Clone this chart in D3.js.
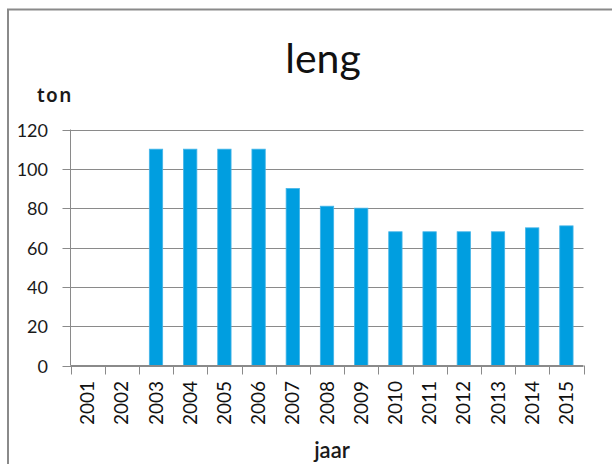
<!DOCTYPE html>
<html>
<head>
<meta charset="utf-8">
<script src="https://cdn.jsdelivr.net/npm/d3@7"></script>
<style>
  html, body { margin: 0; padding: 0; background: #fff; }
  svg { display: block; }
</style>
</head>
<body>
<svg id="chart" width="612" height="464"></svg>
<script>
// Jaarlijkse vangst leng (ton)
const years = ["2001","2002","2003","2004","2005","2006","2007","2008","2009","2010","2011","2012","2013","2014","2015"];
const tons  = [null, null, 110, 110, 110, 110, 90, 81, 80, 68, 68, 68, 68, 70, 71];
const yTicks = [0, 20, 40, 60, 80, 100, 120];

const title = "leng";
const yLabel = "ton";
const xLabel = "jaar";

const svg = d3.select("#chart");
const plot = { left: 70.5, right: 583.5, top: 129.5, bottom: 365.5 };

const x = d3.scaleBand().domain(years).range([plot.left, plot.right]).paddingInner(0.61).paddingOuter(0.305);
const xb = d3.scaleBand().domain(years).range([plot.left, plot.right]);
const y = d3.scaleLinear().domain([0, 120]).range([plot.bottom, plot.top]);

const grey = "#8a8a8a";

// chart frame
svg.append("rect")
  .attr("x", 8).attr("y", 9.5).attr("width", 700).attr("height", 600)
  .attr("fill", "none").attr("stroke", grey).attr("stroke-width", 2);

// gridlines + left ticks
svg.append("g").selectAll("line").data(yTicks).join("line")
  .attr("x1", plot.left - 8).attr("x2", plot.right)
  .attr("y1", d => Math.round(y(d)) + 0.5).attr("y2", d => Math.round(y(d)) + 0.5)
  .attr("stroke", grey).attr("stroke-width", 1);

// y labels
svg.append("g").selectAll("text").data(yTicks).join("text")
  .attr("x", 48).attr("y", d => Math.round(y(d)) + 6.5)
  .attr("text-anchor", "end")
  .attr("font-family", "Lato, 'Open Sans', sans-serif")
  .attr("font-size", 18).attr("fill", "#1a1a1a")
  .text(d => d);

// bars
svg.append("g").selectAll("rect").data(years.map((yr, i) => ({ yr, v: tons[i] })).filter(d => d.v != null))
  .join("rect")
  .attr("x", d => x(d.yr)).attr("width", x.bandwidth())
  .attr("y", d => y(d.v)).attr("height", d => y(0) - y(d.v))
  .attr("fill", "#009ee0").attr("stroke", "#45b5e8").attr("stroke-width", 0.8);

// y axis line
svg.append("line")
  .attr("x1", plot.left).attr("x2", plot.left)
  .attr("y1", plot.top).attr("y2", plot.bottom)
  .attr("stroke", grey);

// x axis line and category boundary ticks
svg.append("line")
  .attr("x1", plot.left).attr("x2", plot.right)
  .attr("y1", plot.bottom).attr("y2", plot.bottom)
  .attr("stroke", grey);
const bounds = years.map(d => xb(d)).concat([plot.right]);
svg.append("g").selectAll("line").data(bounds).join("line")
  .attr("x1", d => Math.round(d) + 0.5).attr("x2", d => Math.round(d) + 0.5)
  .attr("y1", plot.bottom).attr("y2", plot.bottom + 9)
  .attr("stroke", grey);

// year labels (rotated)
svg.append("g").selectAll("text").data(years).join("text")
  .attr("transform", d => `translate(${xb(d) + xb.bandwidth() / 2 + 6.5},381) rotate(-90)`)
  .attr("text-anchor", "end")
  .attr("font-family", "Lato, 'Open Sans', sans-serif")
  .attr("font-size", 19).attr("fill", "#111")
  .text(d => d);

// titles
svg.append("text")
  .attr("x", 323).attr("y", 73)
  .attr("text-anchor", "middle")
  .attr("font-family", "Lato, 'Open Sans', sans-serif")
  .attr("font-size", 41).attr("fill", "#111")
  .text(title);

svg.append("text")
  .attr("x", 37).attr("y", 102)
  .attr("font-family", "'Noto Sans', 'DejaVu Sans', sans-serif")
  .attr("font-size", 19).attr("font-weight", 600).attr("letter-spacing", 1.4).attr("fill", "#1a1a1a")
  .text(yLabel);

svg.append("text")
  .attr("x", 332).attr("y", 458)
  .attr("text-anchor", "middle")
  .attr("font-family", "Lato, 'Open Sans', sans-serif")
  .attr("font-size", 22).attr("font-weight", 600).attr("fill", "#1a1a1a")
  .text(xLabel);
</script>
</body>
</html>
